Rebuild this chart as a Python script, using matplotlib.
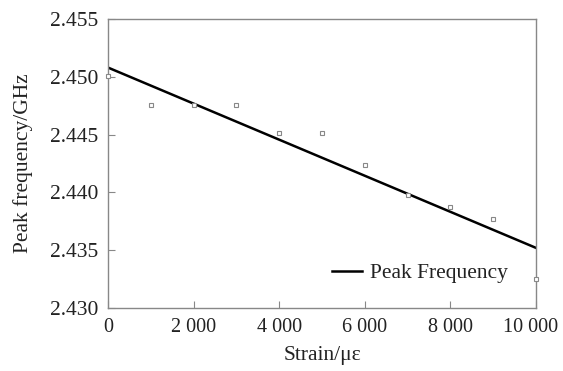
import matplotlib
matplotlib.use("Agg")
import matplotlib.pyplot as plt
import matplotlib.transforms as mtransforms
import numpy as np

plt.rcParams['font.family'] = ['Liberation Serif', 'DejaVu Serif']
plt.rcParams['mathtext.fontset'] = 'stix'

strain = [0, 1000, 2000, 3000, 4000, 5000, 6000, 7000, 8000, 9000, 10000]
freq = [2.4501, 2.4476, 2.4476, 2.4476, 2.4451, 2.4451, 2.4424, 2.4398, 2.4387, 2.4377, 2.4325]
fit_x = [0, 10000]
fit_y = [2.4508, 2.4352]
xticks = [0, 2000, 4000, 6000, 8000, 10000]
xticklabels = ['0', '2 000', '4 000', '6 000', '8 000', '10 000']
yticks = [2.430, 2.435, 2.440, 2.445, 2.450, 2.455]

fig = plt.figure(figsize=(5.63, 3.71), dpi=100)
ax = fig.add_axes([108/563, 1-308/371, (536-108)/563, (308-19)/371])

ax.plot(strain, freq, linestyle='none', marker='s', markersize=3.5,
        markerfacecolor='white', markeredgecolor='#888888', markeredgewidth=0.8, clip_on=False, zorder=3)
ax.plot(fit_x, fit_y, color='black', linewidth=1.8, label='Peak Frequency', zorder=2)

ax.set_xlim(0, 10000)
ax.set_ylim(2.430, 2.455)
ax.set_xticks(xticks)
ax.set_xticklabels(xticklabels)
ax.set_yticks(yticks)
ax.set_yticklabels([f'{v:.3f}' for v in yticks])
ax.tick_params(direction='in', length=5, color='#888888', pad=7, labelcolor='#222222')
ax.tick_params(axis='y', labelsize=15.5)
ax.tick_params(axis='x', labelsize=14.5)
for s in ax.spines.values():
    s.set_color('#888888')
    s.set_linewidth(1.0)

# nudge the last x tick label slightly left so it stays inside the figure
last = ax.get_xticklabels()[-1]
last.set_transform(last.get_transform() + mtransforms.ScaledTranslation(-5/100, 0, fig.dpi_scale_trans))

ax.set_xlabel('Strain/με', fontsize=15.5, labelpad=7, color='#222222')
ax.set_ylabel('Peak frequency/GHz', fontsize=15.5, labelpad=12, color='#222222')

leg = ax.legend(loc='center right', frameon=False, fontsize=15.5, handlelength=1.4,
                handletextpad=0.4, borderpad=0, borderaxespad=0,
                bbox_to_anchor=(0.935, 0.121))
for t in leg.get_texts():
    t.set_color('#222222')

fig.savefig('out.png', dpi=100)
